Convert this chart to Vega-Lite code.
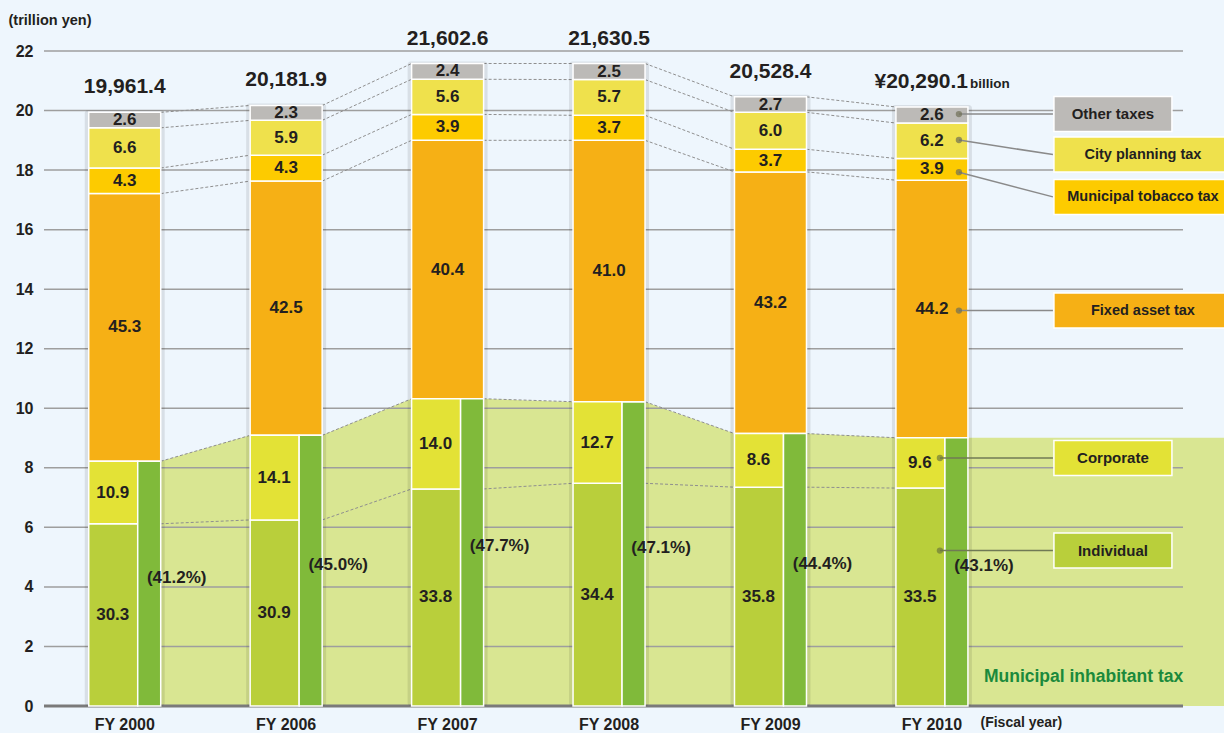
{
  "$schema": "https://vega.github.io/schema/vega-lite/v6.json",
  "width": 1139,
  "height": 655,
  "autosize": {"type": "none"},
  "padding": {"left": 44, "top": 51, "right": 41, "bottom": 27},
  "background": "#eef6fd",
  "config": {
    "view": {"stroke": null},
    "font": "Liberation Sans, Arial, sans-serif",
    "text": {"fontWeight": "bold", "color": "#231f20", "fontSize": 17},
    "axis": {"grid": false, "ticks": false, "domain": false}
  },
  "datasets": {
    "seg": [
      {"year": "FY 2000", "seg": "Individual", "k": 1, "v": 6.12, "pct": 30.3},
      {"year": "FY 2000", "seg": "Corporate", "k": 2, "v": 2.10, "pct": 10.9},
      {"year": "FY 2000", "seg": "Fixed asset tax", "k": 3, "v": 8.99, "pct": 45.3},
      {"year": "FY 2000", "seg": "Municipal tobacco tax", "k": 4, "v": 0.86, "pct": 4.3},
      {"year": "FY 2000", "seg": "City planning tax", "k": 5, "v": 1.35, "pct": 6.6},
      {"year": "FY 2000", "seg": "Other taxes", "k": 6, "v": 0.52, "pct": 2.6},
      {"year": "FY 2006", "seg": "Individual", "k": 1, "v": 6.25, "pct": 30.9},
      {"year": "FY 2006", "seg": "Corporate", "k": 2, "v": 2.84, "pct": 14.1},
      {"year": "FY 2006", "seg": "Fixed asset tax", "k": 3, "v": 8.54, "pct": 42.5},
      {"year": "FY 2006", "seg": "Municipal tobacco tax", "k": 4, "v": 0.87, "pct": 4.3},
      {"year": "FY 2006", "seg": "City planning tax", "k": 5, "v": 1.17, "pct": 5.9},
      {"year": "FY 2006", "seg": "Other taxes", "k": 6, "v": 0.50, "pct": 2.3},
      {"year": "FY 2007", "seg": "Individual", "k": 1, "v": 7.29, "pct": 33.8},
      {"year": "FY 2007", "seg": "Corporate", "k": 2, "v": 3.03, "pct": 14.0},
      {"year": "FY 2007", "seg": "Fixed asset tax", "k": 3, "v": 8.68, "pct": 40.4},
      {"year": "FY 2007", "seg": "Municipal tobacco tax", "k": 4, "v": 0.87, "pct": 3.9},
      {"year": "FY 2007", "seg": "City planning tax", "k": 5, "v": 1.18, "pct": 5.6},
      {"year": "FY 2007", "seg": "Other taxes", "k": 6, "v": 0.53, "pct": 2.4},
      {"year": "FY 2008", "seg": "Individual", "k": 1, "v": 7.48, "pct": 34.4},
      {"year": "FY 2008", "seg": "Corporate", "k": 2, "v": 2.74, "pct": 12.7},
      {"year": "FY 2008", "seg": "Fixed asset tax", "k": 3, "v": 8.78, "pct": 41.0},
      {"year": "FY 2008", "seg": "Municipal tobacco tax", "k": 4, "v": 0.84, "pct": 3.7},
      {"year": "FY 2008", "seg": "City planning tax", "k": 5, "v": 1.20, "pct": 5.7},
      {"year": "FY 2008", "seg": "Other taxes", "k": 6, "v": 0.54, "pct": 2.5},
      {"year": "FY 2009", "seg": "Individual", "k": 1, "v": 7.35, "pct": 35.8},
      {"year": "FY 2009", "seg": "Corporate", "k": 2, "v": 1.80, "pct": 8.6},
      {"year": "FY 2009", "seg": "Fixed asset tax", "k": 3, "v": 8.79, "pct": 43.2},
      {"year": "FY 2009", "seg": "Municipal tobacco tax", "k": 4, "v": 0.76, "pct": 3.7},
      {"year": "FY 2009", "seg": "City planning tax", "k": 5, "v": 1.24, "pct": 6.0},
      {"year": "FY 2009", "seg": "Other taxes", "k": 6, "v": 0.52, "pct": 2.7},
      {"year": "FY 2010", "seg": "Individual", "k": 1, "v": 7.32, "pct": 33.5},
      {"year": "FY 2010", "seg": "Corporate", "k": 2, "v": 1.69, "pct": 9.6},
      {"year": "FY 2010", "seg": "Fixed asset tax", "k": 3, "v": 8.65, "pct": 44.2},
      {"year": "FY 2010", "seg": "Municipal tobacco tax", "k": 4, "v": 0.73, "pct": 3.9},
      {"year": "FY 2010", "seg": "City planning tax", "k": 5, "v": 1.19, "pct": 6.2},
      {"year": "FY 2010", "seg": "Other taxes", "k": 6, "v": 0.54, "pct": 2.6}
    ],
    "muni": [
      {"year": "FY 2000", "v": 8.22, "pct": 41.2},
      {"year": "FY 2006", "v": 9.09, "pct": 45.0},
      {"year": "FY 2007", "v": 10.32, "pct": 47.7},
      {"year": "FY 2008", "v": 10.21, "pct": 47.1},
      {"year": "FY 2009", "v": 9.15, "pct": 44.4},
      {"year": "FY 2010", "v": 9.01, "pct": 43.1}
    ],
    "edge": [
      {"year": "FY 2000", "side": "L", "v": 8.22},
      {"year": "FY 2000", "side": "R", "v": 8.22},
      {"year": "FY 2006", "side": "L", "v": 9.09},
      {"year": "FY 2006", "side": "R", "v": 9.09},
      {"year": "FY 2007", "side": "L", "v": 10.32},
      {"year": "FY 2007", "side": "R", "v": 10.32},
      {"year": "FY 2008", "side": "L", "v": 10.21},
      {"year": "FY 2008", "side": "R", "v": 10.21},
      {"year": "FY 2009", "side": "L", "v": 9.15},
      {"year": "FY 2009", "side": "R", "v": 9.15},
      {"year": "FY 2010", "side": "L", "v": 9.01},
      {"year": "FY 2010", "side": "R", "v": 9.01}
    ],
    "totals": [
      {"year": "FY 2000", "total": 19961.4},
      {"year": "FY 2006", "total": 20181.9},
      {"year": "FY 2007", "total": 21602.6},
      {"year": "FY 2008", "total": 21630.5},
      {"year": "FY 2009", "total": 20528.4},
      {"year": "FY 2010", "total": 20290.1}
    ],
    "grid": [
      {"g": 2}, {"g": 4}, {"g": 6}, {"g": 8}, {"g": 10}, {"g": 12},
      {"g": 14}, {"g": 16}, {"g": 18}, {"g": 20}, {"g": 22}
    ],
    "callouts": [
      {"seg": "Other taxes", "dotY": 19.88, "boxY": 19.88},
      {"seg": "City planning tax", "dotY": 19.01, "boxY": 18.52},
      {"seg": "Municipal tobacco tax", "dotY": 17.93, "boxY": 17.10},
      {"seg": "Fixed asset tax", "dotY": 13.28, "boxY": 13.28},
      {"seg": "Corporate", "dotY": 8.33, "boxY": 8.33},
      {"seg": "Individual", "dotY": 5.22, "boxY": 5.22}
    ]
  },
  "layer": [
    {
      "data": {"name": "edge"},
      "mark": {"type": "area", "color": "#d9e692"},
      "encoding": {
        "x": {
          "field": "year", "type": "nominal",
          "scale": {"type": "band", "domain": ["FY 2000", "FY 2006", "FY 2007", "FY 2008", "FY 2009", "FY 2010"], "paddingInner": 0, "paddingOuter": 0.5276, "align": 0},
          "axis": {
            "title": "(Fiscal year)", "titleX": 936, "titleY": 16, "titleAlign": "left", "titleBaseline": "middle",
            "titleFontSize": 14, "titleFontWeight": "bold", "titleColor": "#231f20",
            "labelFontSize": 16, "labelFontWeight": "bold", "labelColor": "#231f20", "labelPadding": 10,
            "labelAngle": 0, "ticks": false, "domain": false, "grid": false
          }
        },
        "xOffset": {"field": "side", "type": "nominal", "scale": {"type": "point", "domain": ["L", "R"], "range": [44.72, 116.72], "padding": 0}},
        "y": {
          "field": "v", "type": "quantitative", "stack": null,
          "scale": {"domain": [0, 22], "nice": false},
          "axis": {
            "title": "(trillion yen)", "titleAngle": 0, "titleX": -36, "titleY": -31, "titleAlign": "left", "titleBaseline": "middle",
            "titleFontSize": 14.5, "titleFontWeight": "bold", "titleColor": "#231f20",
            "values": [0, 2, 4, 6, 8, 10, 12, 14, 16, 18, 20, 22],
            "labelFontSize": 16, "labelFontWeight": "bold", "labelColor": "#231f20", "labelPadding": 11,
            "ticks": false, "domain": false, "grid": false
          }
        }
      }
    },
    {
      "data": {"name": "edge"},
      "transform": [{"filter": "datum.year === 'FY 2010' && datum.side === 'R'"}],
      "mark": {"type": "bar", "color": "#d9e692", "width": 300, "xOffset": 180},
      "encoding": {
        "x": {"field": "year", "type": "nominal"},
        "y": {"field": "v", "type": "quantitative"}
      }
    },
    {
      "data": {"name": "grid"},
      "mark": {"type": "rule", "color": "#9e9e9e", "strokeWidth": 1.5},
      "encoding": {"y": {"field": "g", "type": "quantitative"}}
    },
    {
      "data": {"values": [{}]},
      "mark": {"type": "rule", "color": "#7a7a7a", "strokeWidth": 3, "x2Offset": 41},
      "encoding": {"y": {"datum": 0, "type": "quantitative"}}
    },
    {
      "data": {"name": "seg"},
      "transform": [
        {"stack": "v", "groupby": ["year"], "sort": [{"field": "k", "order": "ascending"}], "as": ["lo", "hi"]},
        {"window": [{"op": "lead", "field": "hi", "as": "nhi"}, {"op": "lead", "field": "year", "as": "nyear"}], "groupby": ["seg"], "sort": [{"field": "year", "order": "ascending"}]},
        {"filter": "datum.nyear != null"}
      ],
      "mark": {"type": "rule", "color": "#8f8f8f", "strokeWidth": 1, "strokeDash": [3, 2], "xOffset": 36, "x2Offset": -36},
      "encoding": {
        "x": {"field": "year", "type": "nominal"},
        "x2": {"field": "nyear"},
        "y": {"field": "hi", "type": "quantitative"},
        "y2": {"field": "nhi"}
      }
    },
    {
      "data": {"name": "seg"},
      "transform": [
        {"stack": "v", "groupby": ["year"], "sort": [{"field": "k", "order": "ascending"}], "as": ["lo", "hi"]},
        {"filter": "datum.k === 6"}
      ],
      "mark": {"type": "bar", "color": "#000000", "opacity": 0.09, "width": 80, "cornerRadius": 3, "yOffset": -2},
      "encoding": {
        "x": {"field": "year", "type": "nominal"},
        "y": {"field": "hi", "type": "quantitative"},
        "y2": {"datum": 0}
      }
    },
    {
      "data": {"name": "seg"},
      "transform": [
        {"stack": "v", "groupby": ["year"], "sort": [{"field": "k", "order": "ascending"}], "as": ["lo", "hi"]},
        {"filter": "datum.k >= 3"}
      ],
      "mark": {"type": "bar", "width": 72, "stroke": "#ffffff", "strokeWidth": 1.5},
      "encoding": {
        "x": {"field": "year", "type": "nominal"},
        "y": {"field": "lo", "type": "quantitative"},
        "y2": {"field": "hi"},
        "color": {
          "field": "seg", "type": "nominal", "legend": null,
          "scale": {
            "domain": ["Individual", "Corporate", "Fixed asset tax", "Municipal tobacco tax", "City planning tax", "Other taxes"],
            "range": ["#b9cf3b", "#e3e236", "#f6b015", "#fdcb00", "#efe14c", "#bcbab7"]
          }
        }
      }
    },
    {
      "data": {"name": "seg"},
      "transform": [
        {"stack": "v", "groupby": ["year"], "sort": [{"field": "k", "order": "ascending"}], "as": ["lo", "hi"]},
        {"filter": "datum.k <= 2"}
      ],
      "mark": {"type": "bar", "width": 49, "xOffset": -11.5, "stroke": "#ffffff", "strokeWidth": 1.5},
      "encoding": {
        "x": {"field": "year", "type": "nominal"},
        "y": {"field": "lo", "type": "quantitative"},
        "y2": {"field": "hi"},
        "color": {"field": "seg", "type": "nominal", "legend": null}
      }
    },
    {
      "data": {"name": "muni"},
      "mark": {"type": "bar", "width": 23, "xOffset": 24.5, "color": "#80ba3a", "stroke": "#ffffff", "strokeWidth": 1.5},
      "encoding": {
        "x": {"field": "year", "type": "nominal"},
        "y": {"field": "v", "type": "quantitative"}
      }
    },
    {
      "data": {"name": "seg"},
      "transform": [
        {"stack": "v", "groupby": ["year"], "sort": [{"field": "k", "order": "ascending"}], "as": ["lo", "hi"]},
        {"filter": "datum.k >= 3"},
        {"fold": ["lo", "hi"], "as": ["bk", "bv"]},
        {"aggregate": [{"op": "mean", "field": "bv", "as": "mid"}], "groupby": ["year", "seg", "k", "pct"]}
      ],
      "mark": {"type": "text", "baseline": "middle", "align": "center"},
      "encoding": {
        "x": {"field": "year", "type": "nominal"},
        "y": {"field": "mid", "type": "quantitative"},
        "text": {"field": "pct", "type": "quantitative", "format": ".1f"}
      }
    },
    {
      "data": {"name": "seg"},
      "transform": [
        {"stack": "v", "groupby": ["year"], "sort": [{"field": "k", "order": "ascending"}], "as": ["lo", "hi"]},
        {"filter": "datum.k <= 2"},
        {"fold": ["lo", "hi"], "as": ["bk", "bv"]},
        {"aggregate": [{"op": "mean", "field": "bv", "as": "mid"}], "groupby": ["year", "seg", "k", "pct"]}
      ],
      "mark": {"type": "text", "baseline": "middle", "align": "center", "dx": -12},
      "encoding": {
        "x": {"field": "year", "type": "nominal"},
        "y": {"field": "mid", "type": "quantitative"},
        "text": {"field": "pct", "type": "quantitative", "format": ".1f"}
      }
    },
    {
      "data": {"name": "muni"},
      "transform": [
        {"stack": "v", "groupby": ["year"], "as": ["g0", "g1"]},
        {"fold": ["g0", "g1"], "as": ["bk", "bv"]},
        {"aggregate": [{"op": "mean", "field": "bv", "as": "mid"}], "groupby": ["year", "pct"]}
      ],
      "mark": {"type": "text", "baseline": "middle", "align": "center", "dx": 52, "dy": -6, "text": {"expr": "'(' + format(datum.pct, '.1f') + '%)'"}},
      "encoding": {
        "x": {"field": "year", "type": "nominal"},
        "y": {"field": "mid", "type": "quantitative"}
      }
    },
    {
      "data": {"name": "seg"},
      "transform": [
        {"stack": "v", "groupby": ["year"], "sort": [{"field": "k", "order": "ascending"}], "as": ["lo", "hi"]},
        {"filter": "datum.k === 6 && datum.year !== 'FY 2010'"},
        {"lookup": "year", "from": {"data": {"name": "totals"}, "key": "year", "fields": ["total"]}}
      ],
      "mark": {"type": "text", "baseline": "alphabetic", "align": "center", "dy": -19, "fontSize": 21},
      "encoding": {
        "x": {"field": "year", "type": "nominal"},
        "y": {"field": "hi", "type": "quantitative"},
        "text": {"field": "total", "type": "quantitative", "format": ",.1f"}
      }
    },
    {
      "data": {"name": "seg"},
      "transform": [
        {"stack": "v", "groupby": ["year"], "sort": [{"field": "k", "order": "ascending"}], "as": ["lo", "hi"]},
        {"filter": "datum.k === 6 && datum.year === 'FY 2010'"},
        {"lookup": "year", "from": {"data": {"name": "totals"}, "key": "year", "fields": ["total"]}}
      ],
      "mark": {"type": "text", "baseline": "alphabetic", "align": "right", "dx": 36, "dy": -19, "fontSize": 21, "text": {"expr": "'¥' + format(datum.total, ',.1f')"}},
      "encoding": {
        "x": {"field": "year", "type": "nominal"},
        "y": {"field": "hi", "type": "quantitative"}
      }
    },
    {
      "data": {"name": "seg"},
      "transform": [
        {"stack": "v", "groupby": ["year"], "sort": [{"field": "k", "order": "ascending"}], "as": ["lo", "hi"]},
        {"filter": "datum.k === 6 && datum.year === 'FY 2010'"}
      ],
      "mark": {"type": "text", "baseline": "alphabetic", "align": "left", "dx": 38, "dy": -19, "fontSize": 13.5, "text": "billion"},
      "encoding": {
        "x": {"field": "year", "type": "nominal"},
        "y": {"field": "hi", "type": "quantitative"}
      }
    },
    {
      "data": {"name": "callouts"},
      "transform": [{"filter": {"field": "seg", "oneOf": ["Other taxes", "City planning tax", "Municipal tobacco tax", "Fixed asset tax"]}}],
      "mark": {"type": "rule", "color": "#8a8a8a", "strokeWidth": 1.5, "xOffset": 27, "x2Offset": 121},
      "encoding": {
        "x": {"datum": "FY 2010", "type": "nominal"},
        "x2": {"datum": "FY 2010"},
        "y": {"field": "dotY", "type": "quantitative"},
        "y2": {"field": "boxY"}
      }
    },
    {
      "data": {"name": "callouts"},
      "transform": [{"filter": {"field": "seg", "oneOf": ["Corporate", "Individual"]}}],
      "mark": {"type": "rule", "color": "#707a55", "strokeWidth": 1.5, "xOffset": 8, "x2Offset": 121},
      "encoding": {
        "x": {"datum": "FY 2010", "type": "nominal"},
        "x2": {"datum": "FY 2010"},
        "y": {"field": "dotY", "type": "quantitative"},
        "y2": {"field": "boxY"}
      }
    },
    {
      "data": {"name": "callouts"},
      "transform": [{"filter": {"field": "seg", "oneOf": ["Other taxes", "City planning tax", "Municipal tobacco tax", "Fixed asset tax"]}}],
      "mark": {"type": "point", "filled": true, "size": 40, "color": "#6f6f55", "opacity": 0.7, "xOffset": 27},
      "encoding": {
        "x": {"datum": "FY 2010", "type": "nominal"},
        "y": {"field": "dotY", "type": "quantitative"}
      }
    },
    {
      "data": {"name": "callouts"},
      "transform": [{"filter": {"field": "seg", "oneOf": ["Corporate", "Individual"]}}],
      "mark": {"type": "point", "filled": true, "size": 40, "color": "#6f7a3a", "opacity": 0.7, "xOffset": 8},
      "encoding": {
        "x": {"datum": "FY 2010", "type": "nominal"},
        "y": {"field": "dotY", "type": "quantitative"}
      }
    },
    {
      "data": {"name": "callouts"},
      "transform": [{"filter": {"field": "seg", "oneOf": ["Other taxes", "Corporate", "Individual"]}}],
      "mark": {"type": "point", "filled": true, "opacity": 1, "shape": "M-1,-0.2966L1,-0.2966L1,0.2966L-1,0.2966Z", "size": 13924, "stroke": "#ffffff", "strokeWidth": 1.5, "xOffset": 181},
      "encoding": {
        "x": {"datum": "FY 2010", "type": "nominal"},
        "y": {"field": "boxY", "type": "quantitative"},
        "color": {"field": "seg", "type": "nominal", "legend": null}
      }
    },
    {
      "data": {"name": "callouts"},
      "transform": [{"filter": {"field": "seg", "oneOf": ["City planning tax", "Municipal tobacco tax", "Fixed asset tax"]}}],
      "mark": {"type": "point", "filled": true, "opacity": 1, "shape": "M-1,-0.1977L1,-0.1977L1,0.1977L-1,0.1977Z", "size": 31329, "stroke": "#ffffff", "strokeWidth": 1.5, "xOffset": 210.5},
      "encoding": {
        "x": {"datum": "FY 2010", "type": "nominal"},
        "y": {"field": "boxY", "type": "quantitative"},
        "color": {"field": "seg", "type": "nominal", "legend": null}
      }
    },
    {
      "data": {"name": "callouts"},
      "transform": [{"filter": {"field": "seg", "oneOf": ["Other taxes", "Corporate", "Individual"]}}],
      "mark": {"type": "text", "baseline": "middle", "align": "center", "dx": 181, "fontSize": 15},
      "encoding": {
        "x": {"datum": "FY 2010", "type": "nominal"},
        "y": {"field": "boxY", "type": "quantitative"},
        "text": {"field": "seg", "type": "nominal"}
      }
    },
    {
      "data": {"name": "callouts"},
      "transform": [{"filter": {"field": "seg", "oneOf": ["City planning tax", "Municipal tobacco tax", "Fixed asset tax"]}}],
      "mark": {"type": "text", "baseline": "middle", "align": "center", "dx": 211, "fontSize": 14.5},
      "encoding": {
        "x": {"datum": "FY 2010", "type": "nominal"},
        "y": {"field": "boxY", "type": "quantitative"},
        "text": {"field": "seg", "type": "nominal"}
      }
    },
    {
      "data": {"values": [{"label": "Municipal inhabitant tax"}]},
      "mark": {"type": "text", "baseline": "middle", "align": "left", "dx": 52, "fontSize": 17.5, "color": "#1b8a3c"},
      "encoding": {
        "x": {"datum": "FY 2010", "type": "nominal"},
        "y": {"datum": 0.97, "type": "quantitative"},
        "text": {"field": "label", "type": "nominal"}
      }
    }
  ]
}
